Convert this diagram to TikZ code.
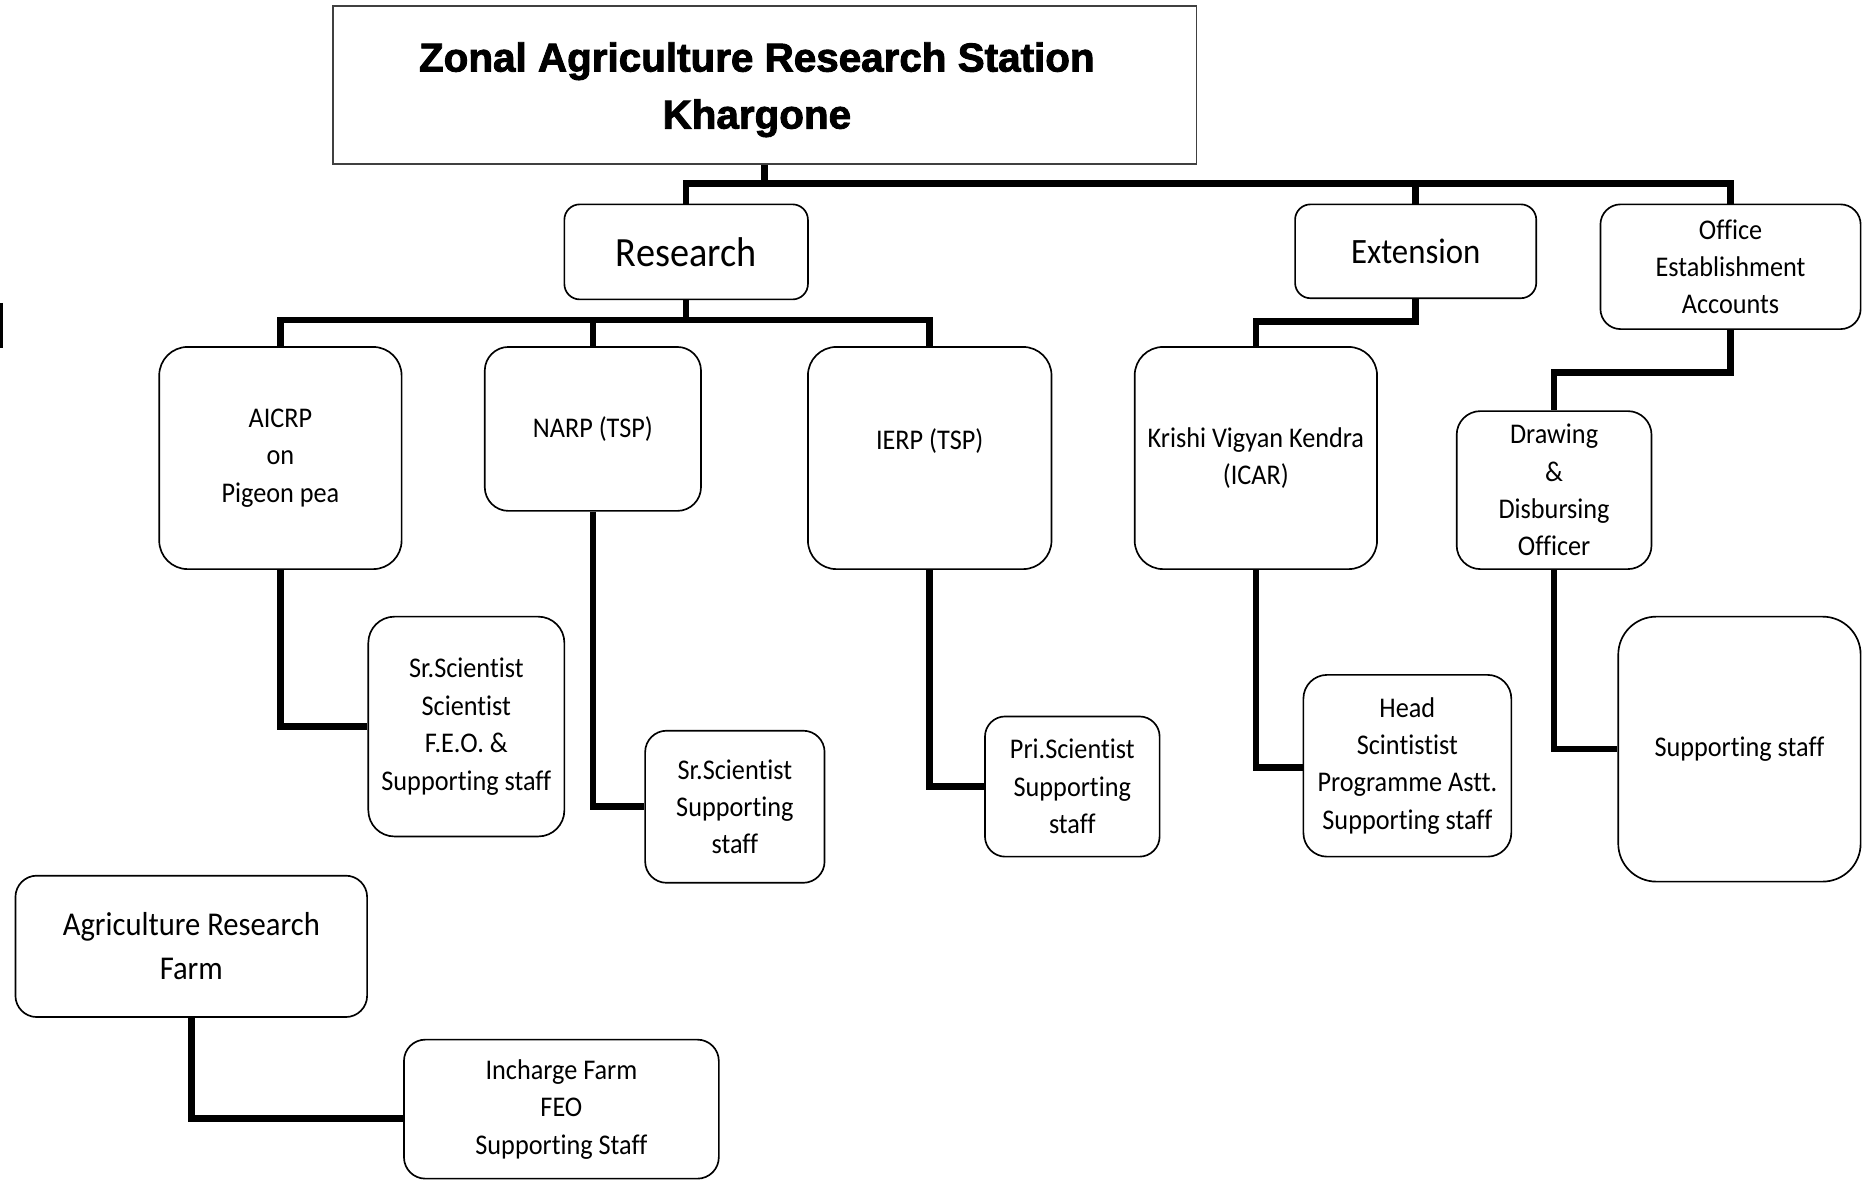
\documentclass[tikz,border=0pt]{standalone}
\usepackage{fontspec}
\setmainfont{Carlito}[FakeStretch=0.92, Ligatures=NoCommon]
\newfontfamily\titlefont{Liberation Sans}[BoldFeatures={FakeBold=2.2}]
\begin{document}
\begin{tikzpicture}[x=1pt,y=-1pt,
  conn/.style={line width=5.5pt, line join=miter},
  rbox/.style={draw, line width=1.4pt, rounded corners=#1, inner sep=0pt, align=center,
    font=\fontsize{24}{31.5}\selectfont},
  tbox/.style={draw=black!75, line width=1.5pt, inner sep=0pt},
  ttext/.style={inner sep=0pt, align=center, font=\titlefont\bfseries\fontsize{34}{48}\selectfont}]
\fill[white] (0,0) rectangle (1568,993);
\useasboundingbox (0,0) rectangle (1568,993);

\node[tbox, minimum width=727pt, minimum height=133pt] (title) at (643.5,71.5) {};
\node[ttext] (titletext) at (637,75.5) {Zonal Agriculture Research Station\\Khargone};

\node[rbox=13, minimum width=205pt, minimum height=80pt, font=\fontsize{35}{40}\selectfont] (research) at (577.5,212) {Research};
\node[rbox=13, minimum width=203pt, minimum height=79pt, font=\fontsize{30}{36}\selectfont] (extension) at (1191.5,211.5) {Extension};
\node[rbox=17, minimum width=219pt, minimum height=105pt] (office) at (1456.5,224.5) {Office\\Establishment\\Accounts};

\node[rbox=24, minimum width=204pt, minimum height=187pt] (aicrp) at (236,385.5) {AICRP\\on\\Pigeon pea};
\node[rbox=20, minimum width=182pt, minimum height=138pt] (narp) at (499,361) {NARP (TSP)};
\node[rbox=24, minimum width=205pt, minimum height=187pt] (ierp) at (782.5,385.5) {IERP (TSP)\\\mbox{}};
\node[rbox=24, minimum width=204pt, minimum height=187pt] (kvk) at (1057,385.5) {Krishi Vigyan Kendra\\(ICAR)};
\node[rbox=20, minimum width=164pt, minimum height=133pt] (ddo) at (1308,412.5) {Drawing\\\&\\Disbursing\\Officer};

\node[rbox=22, minimum width=165pt, minimum height=185pt] (b1) at (392.5,611.5) {Sr.Scientist\\Scientist\\F.E.O. \&\\Supporting staff};
\node[rbox=18, minimum width=151pt, minimum height=128pt] (b2) at (618.5,679) {Sr.Scientist\\Supporting\\staff};
\node[rbox=17, minimum width=147pt, minimum height=118pt] (b3) at (902.5,662) {Pri.Scientist\\Supporting\\staff};
\node[rbox=20, minimum width=175pt, minimum height=153pt] (b4) at (1184.5,644.5) {Head\\Scintistist\\Programme Astt.\\Supporting staff};
\node[rbox=32, minimum width=204pt, minimum height=223pt] (b5) at (1464,630.5) {Supporting staff};

\node[rbox=18, minimum width=296pt, minimum height=119pt, font=\fontsize{28}{37}\selectfont] (arf) at (161,796.5) {Agriculture Research\\Farm};
\node[rbox=18, minimum width=265pt, minimum height=117pt] (farm) at (472.5,933.5) {Incharge Farm\\FEO\\Supporting Staff};

\draw[conn] (title.south) -- ++(0,17);
\draw[conn] (research.north) -- ++(0,-17) -| (office.north);
\draw[conn] (extension.north) -- ++(0,-17);
\draw[conn] (research.south) -- ++(0,18);
\draw[conn] (aicrp.north) -- ++(0,-22) -| (ierp.north);
\draw[conn] (narp.north) -- ++(0,-22);
\draw[conn] (extension.south) -- ++(0,19) -| (kvk.north);
\draw[conn] (office.south) -- ++(0,36) -| (ddo.north);
\draw[conn] (aicrp.south) |- (b1.west);
\draw[conn] (narp.south) |- (b2.west);
\draw[conn] (ierp.south) |- (b3.west);
\draw[conn] (kvk.south) |- ([yshift=-1.5pt]b4.west);
\draw[conn] (ddo.south) |- (b5.west);
\draw[conn] (arf.south) |- ([yshift=-8pt]farm.west);

\draw[line width=2.5pt] (1.25,255) -- (1.25,293);
\end{tikzpicture}
\end{document}
